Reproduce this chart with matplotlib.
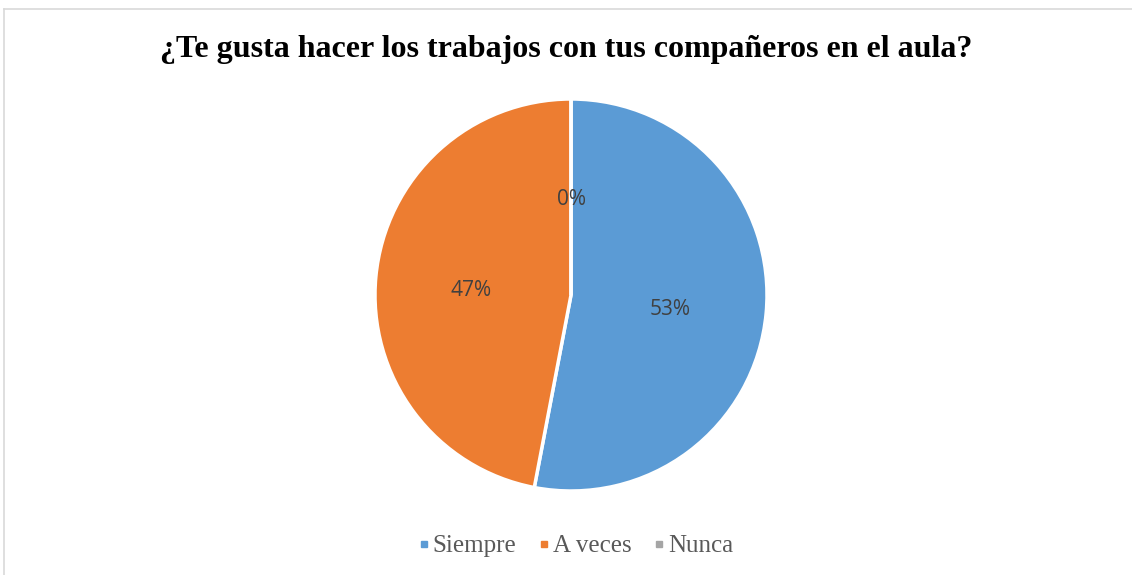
import matplotlib.pyplot as plt
from matplotlib.lines import Line2D

labels = ['Siempre', 'A veces', 'Nunca']
values = [53, 47, 0]
colors = ['#5B9BD5', '#ED7D31', '#A5A5A5']
title = '¿Te gusta hacer los trabajos con tus compañeros en el aula?'

W, H = 1132, 575
fig = plt.figure(figsize=(W / 100, H / 100), dpi=100)

# light frame, only left and top edges show in the reference
fx, fy = 3.5 / W, 1 - 8.5 / H
fig.add_artist(Line2D([fx, fx], [0, fy], transform=fig.transFigure, color='#D9D9D9', lw=1.2))
fig.add_artist(Line2D([fx, 1], [fy, fy], transform=fig.transFigure, color='#D9D9D9', lw=1.2))

cx, cy, r = 571, 295, 196
ax = fig.add_axes([(cx - r) / W, (H - cy - r) / H, 2 * r / W, 2 * r / H])
wedges, texts, autotexts = ax.pie(values, colors=colors, startangle=90, counterclock=False,
                                  autopct='%1.0f%%', pctdistance=0.51, radius=1,
                                  wedgeprops=dict(edgecolor='white', linewidth=2.5),
                                  textprops=dict(color='#404040', fontsize=15, family='Open Sans'))
for t in autotexts:
    x, y = t.get_position()
    t.set_position((x, y - 0.025))
ax.set_xlim(-1, 1)
ax.set_ylim(-1, 1)
ax.set_aspect('equal')
ax.axis('off')

fig.text(0.5, 1 - 49 / H, title, ha='center', va='center', fontsize=23,
         fontweight='bold', family='Liberation Serif')

handles = [Line2D([], [], marker='s', linestyle='none', markersize=5, color=c) for c in colors]
fig.legend(handles, labels, loc='center', bbox_to_anchor=(576 / W, 1 - 546 / H), ncol=3,
           frameon=False, handlelength=0.4, handletextpad=0.15, columnspacing=0.9,
           prop=dict(family='Liberation Serif', size=18), labelcolor='#595959')

fig.savefig('out.png', dpi=100)
